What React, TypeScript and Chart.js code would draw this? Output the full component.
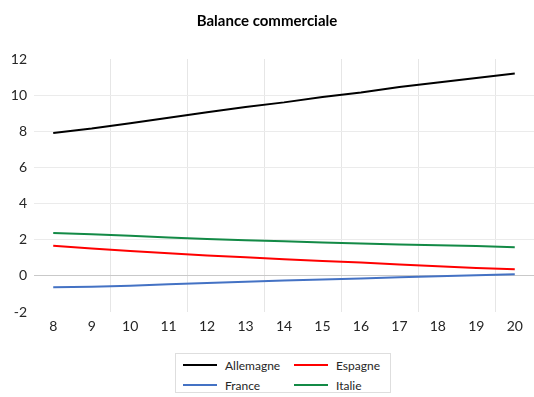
import React, { useEffect, useRef } from "react";
import { Chart, registerables } from "chart.js";

Chart.register(...registerables);

const years = [8, 9, 10, 11, 12, 13, 14, 15, 16, 17, 18, 19, 20];
const allemagne = [7.9, 8.15, 8.45, 8.75, 9.05, 9.35, 9.6, 9.9, 10.15, 10.45, 10.7, 10.95, 11.2];
const espagne = [1.66, 1.52, 1.38, 1.25, 1.13, 1.03, 0.92, 0.82, 0.74, 0.63, 0.53, 0.44, 0.36];
const france = [-0.63, -0.6, -0.55, -0.47, -0.39, -0.32, -0.26, -0.2, -0.15, -0.08, -0.02, 0.04, 0.09];
const italie = [2.37, 2.3, 2.22, 2.12, 2.04, 1.97, 1.91, 1.85, 1.79, 1.74, 1.7, 1.65, 1.58];
const seriesNames = ["Allemagne", "Espagne", "France", "Italie"];
const seriesColors = ["#000000", "#ff0000", "#4472c4", "#138a46"];
const yTicks = [-2, 0, 2, 4, 6, 8, 10, 12];

const FONT = "Lato, 'Open Sans', sans-serif";

export default function App() {
  const ref = useRef<HTMLCanvasElement | null>(null);
  useEffect(() => {
    if (!ref.current) return;
    const seriesValues = [allemagne, espagne, france, italie];
    const chart = new Chart(ref.current, {
      type: "line",
      data: {
        datasets: seriesNames.map((name, i) => ({
          label: name,
          data: years.map((x, j) => ({ x, y: seriesValues[i][j] })),
          borderColor: seriesColors[i],
          backgroundColor: seriesColors[i],
          borderWidth: 2,
          pointRadius: 0,
          tension: 0,
        })),
      },
      options: {
        animation: false,
        responsive: false,
        maintainAspectRatio: false,
        layout: { padding: { left: 0, right: 0, top: 0, bottom: 45 } },
        plugins: {
          legend: { display: false },
          tooltip: { enabled: false },
          title: {
            display: true,
            text: "Balance commerciale",
            color: "#000000",
            font: { family: FONT, size: 15, weight: "bold" },
            padding: { top: 12, bottom: 29 },
          },
        },
        scales: {
          x: {
            type: "linear",
            min: 7.5,
            max: 20.5,
            afterFit: (s: any) => {
              s.height = 40;
              s.paddingLeft = 0;
              s.paddingRight = 0;
            },
            afterBuildTicks: (s: any) => {
              const t: any[] = [];
              for (let v = 7.5; v <= 20.5; v += 0.5) t.push({ value: v });
              s.ticks = t;
            },
            ticks: {
              autoSkip: false,
              maxRotation: 0,
              color: "#262626",
              font: { family: FONT, size: 14 },
              padding: 6,
              callback: (v: any) => (Number.isInteger(v) && years.includes(v) ? String(v) : ""),
            },
            grid: {
              drawTicks: false,
              color: (c: any) => {
                const v = c.tick ? c.tick.value : 0;
                return Math.abs(((v - 9.5) % 2 + 2) % 2) < 1e-6 && v > 8 && v < 20.5
                  ? "#e6e6e6"
                  : "rgba(0,0,0,0)";
              },
            },
            border: { display: false },
          },
          y: {
            min: -2,
            max: 12,
            afterFit: (s: any) => {
              s.width = 34;
            },
            afterBuildTicks: (s: any) => {
              s.ticks = yTicks.map((v) => ({ value: v }));
            },
            ticks: {
              color: "#262626",
              font: { family: FONT, size: 14 },
              padding: 7,
            },
            grid: {
              drawTicks: false,
              color: (c: any) => {
                const v = c.tick ? c.tick.value : 0;
                if (v === 0) return "#c9c9c9";
                if (v === 12 || v === -2) return "rgba(0,0,0,0)";
                return "#ebebeb";
              },
            },
            border: { display: false },
          },
        },
      },
    });
    return () => chart.destroy();
  }, []);

  const row = (a: number, b: number) => (
    <div style={{ display: "flex", alignItems: "center", height: 20 }}>
      {[a, b].map((i) => (
        <div key={i} style={{ display: "flex", alignItems: "center", width: i === a ? 118 : 95 }}>
          <span
            style={{
              display: "inline-block",
              width: 34,
              height: 2,
              background: seriesColors[i],
              marginLeft: i === a ? 7 : 0,
              marginRight: 8,
            }}
          />
          <span>{seriesNames[i]}</span>
        </div>
      ))}
    </div>
  );

  return (
    <div style={{ position: "fixed", left: 0, top: 0, width: 534, height: 397, background: "#fff" }}>
      <canvas ref={ref} width={534} height={397} style={{ display: "block", width: 534, height: 397 }} />
      <div
        style={{
          position: "absolute",
          left: 175,
          top: 353,
          width: 216,
          height: 40,
          border: "1px solid #dedede",
          boxSizing: "border-box",
          fontFamily: FONT,
          fontSize: 12,
          color: "#262626",
          paddingTop: 1,
          background: "#fff",
        }}
      >
        {row(0, 1)}
        {row(2, 3)}
      </div>
    </div>
  );
}
